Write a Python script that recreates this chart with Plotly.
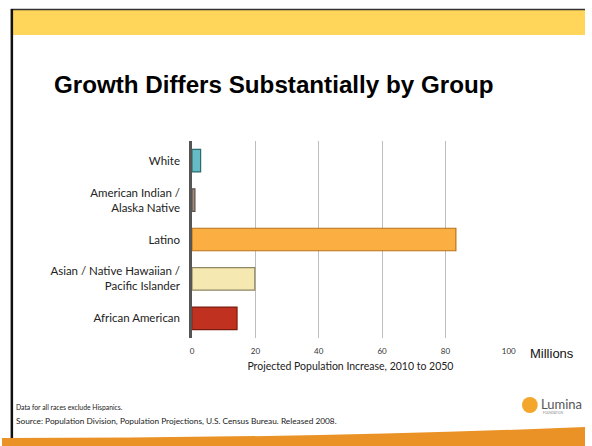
import plotly.graph_objects as go

# Projected population increase, 2010 to 2050 (millions)
groups = [
    "White",
    "American Indian /<br>Alaska Native",
    "Latino",
    "Asian / Native Hawaiian /<br>Pacific Islander",
    "African American",
]
increase = [2.7, 0.9, 83.3, 19.8, 14.2]
fill_colors = ["#66BCC5", "#9E8E82", "#FBAE42", "#F5E8B0", "#C0321F"]
edge_colors = ["#2E6B70", "#5E5048", "#B8741A", "#8F8666", "#7A1B10"]
x_ticks = [0, 20, 40, 60, 80, 100]

W, H = 592, 446


def px(x):
    return x / W


def py(y):
    return 1 - y / H


fig = go.Figure(
    go.Bar(
        x=increase,
        y=groups,
        orientation="h",
        marker=dict(color=fill_colors, line=dict(color=edge_colors, width=1.2)),
        width=0.57,
        hoverinfo="skip",
    )
)

label_font = "Lato, Carlito, Calibri, Open Sans, sans-serif"

fig.update_layout(
    width=W,
    height=H,
    margin=dict(l=0, r=0, t=0, b=0),
    paper_bgcolor="white",
    plot_bgcolor="white",
    showlegend=False,
    xaxis=dict(
        domain=[px(193), px(514.6)],
        range=[0, 100],
        tickvals=x_ticks,
        ticks="outside",
        ticklen=5,
        tickcolor="rgba(0,0,0,0)",
        tickfont=dict(family=label_font, size=8, color="#333333"),
        showgrid=True,
        gridcolor="#bdbdbd",
        gridwidth=1,
        zeroline=False,
        showline=False,
        title=dict(
            text="Projected Population Increase, 2010 to 2050",
            font=dict(family=label_font, size=10.5, color="#222222"),
            standoff=8,
        ),
    ),
    yaxis=dict(
        domain=[py(338), py(141)],
        type="category",
        categoryarray=groups,
        autorange="reversed",
        ticks="outside",
        ticklen=7,
        tickcolor="rgba(0,0,0,0)",
        tickfont=dict(family=label_font, size=11.5, color="#222222"),
        showline=True,
        linecolor="#555555",
        linewidth=2.5,
        showgrid=False,
        zeroline=False,
    ),
)

shapes = [
    # top yellow band
    dict(type="rect", xref="paper", yref="paper", x0=px(9), x1=1, y0=py(35), y1=py(10),
         fillcolor="#FFD55A", line=dict(width=0), layer="below"),
    # frame: top edge and left edge
    dict(type="line", xref="paper", yref="paper", x0=px(9), x1=1, y0=py(9.5), y1=py(9.5),
         line=dict(color="#333333", width=1.5)),
    dict(type="line", xref="paper", yref="paper", x0=px(10), x1=px(10), y0=py(9), y1=py(438),
         line=dict(color="#111111", width=2.5)),
    # bottom orange band with a gentle sweep upward to the right
    dict(type="path", xref="paper", yref="paper",
         path=f"M 0,{py(438)} Q {px(320)},{py(438)} 1,{py(427)} L 1,0 L 0,0 Z",
         fillcolor="#EA9226", line=dict(width=0)),
    # logo mark
    dict(type="circle", xref="paper", yref="paper",
         x0=px(528), x1=px(544), y0=py(413), y1=py(397),
         fillcolor="#F3A52C", line=dict(width=0)),
]

annotations = [
    dict(text="<b>Growth Differs Substantially by Group</b>", x=px(51), y=py(84),
         xref="paper", yref="paper", xanchor="left", yanchor="middle", showarrow=False,
         font=dict(family="Arial, Liberation Sans, sans-serif", size=24.2, color="#000000")),
    dict(text="Millions", x=px(534), y=py(353), xref="paper", yref="paper",
         xanchor="left", yanchor="middle", showarrow=False,
         font=dict(family="Arial, Liberation Sans, sans-serif", size=13, color="#111111")),
    dict(text="Data for all races exclude Hispanics.", x=px(12), y=py(407),
         xref="paper", yref="paper", xanchor="left", yanchor="middle", showarrow=False,
         font=dict(family=label_font, size=6.8, color="#222222")),
    dict(text="Source: Population Division, Population Projections, U.S. Census Bureau. Released 2008.",
         x=px(12), y=py(421), xref="paper", yref="paper", xanchor="left", yanchor="middle",
         showarrow=False, font=dict(family=label_font, size=8.3, color="#222222")),
    dict(text="Lumina", x=px(545), y=py(404), xref="paper", yref="paper",
         xanchor="left", yanchor="middle", showarrow=False,
         font=dict(family=label_font, size=13, color="#555555")),
    dict(text="FOUNDATION", x=px(547), y=py(413), xref="paper", yref="paper",
         xanchor="left", yanchor="middle", showarrow=False,
         font=dict(family=label_font, size=3, color="#888888")),
]

fig.update_layout(shapes=shapes, annotations=annotations)

fig.write_html("out.html")
